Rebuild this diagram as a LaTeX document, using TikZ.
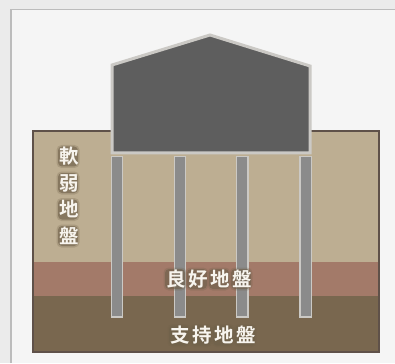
\documentclass[tikz,border=0pt]{standalone}
\usepackage{fontspec}
\usepackage{xcolor}
\newfontfamily\cjkface[LetterSpace=13,BoldFont={Noto Sans CJK JP Bold}]{Noto Sans CJK JP}
\definecolor{PageGrey}{HTML}{ebebeb}
\definecolor{PanelGrey}{HTML}{f5f5f5}
\definecolor{PanelLine}{HTML}{bcbcbc}
\definecolor{SoftSoil}{HTML}{bdae92}
\definecolor{GoodSoil}{HTML}{a37a69}
\definecolor{BaseSoil}{HTML}{79674f}
\definecolor{SoilLine}{HTML}{5f5149}
\definecolor{HouseGrey}{HTML}{5e5e5e}
\definecolor{PileGrey}{HTML}{8b8b8b}
\definecolor{EdgeGrey}{HTML}{cbc9c5}
\definecolor{HaloBrown}{HTML}{6f604a}
\definecolor{LabelWhite}{HTML}{f7f4ee}
\tikzset{
    pile/.style={fill=PileGrey,draw=EdgeGrey,line width=1.5pt},
    plate/.style={fill=HaloBrown,opacity=.6,rounded corners=4pt},
    softplate/.style={fill=HaloBrown,opacity=.25,rounded corners=5pt},
    toplabel/.style={text=LabelWhite,font=\cjkface\bfseries\fontsize{19.5}{26.5}\selectfont,align=center,inner sep=0pt}
}
\newcommand{\haloplate}[2]{%
    \fill[softplate] (#1-11.5,#2-11.5) rectangle (#1+11.5,#2+11.5);
    \fill[plate] (#1-10,#2-10) rectangle (#1+10,#2+10);
}
\begin{document}
\begin{tikzpicture}[x=1pt,y=-1pt]
    \useasboundingbox (0,0) rectangle (395,363);
    % page and panel
    \fill[PageGrey] (0,0) rectangle (395,363);
    \fill[PanelGrey] (11,9.5) rectangle (395,363);
    \draw[PanelLine,line width=1.5pt] (11,363)--(11,9.5)--(395,9.5);
    % soil layers
    \fill[SoftSoil] (33,131) rectangle (379,262);
    \fill[GoodSoil] (33,262) rectangle (379,296);
    \fill[BaseSoil] (33,296) rectangle (379,352);
    \draw[SoilLine,line width=1.3pt] (33,131) rectangle (379,352);
    % piles
    \foreach \pilemid in {117,180,242.3,305.7}{%
        \draw[pile] (\pilemid-5.6,156.5)--(\pilemid+5.6,156.5)--(\pilemid+5.6,317)--(\pilemid-5.6,317)--cycle;
    }
    % building
    \draw[fill=HouseGrey,draw=EdgeGrey,line width=3pt,line join=miter]
        (112,65)--(210,35)--(310,66)--(310,153)--(112,153)--cycle;
    % plates under the labels
    \foreach \platey in {156.5,183,209.5,236}{\haloplate{68}{\platey}}
    \foreach \platex in {175,197,219,241}{\haloplate{\platex}{279}}
    \foreach \platex in {179,201,223,245}{\haloplate{\platex}{335.5}}
    % labels
    \node[toplabel] (soft) at (69,196) {軟\\弱\\地\\盤};
    \node[toplabel] (good) at (209,279) {良好地盤};
    \node[toplabel] (base) at (213,335.5) {支持地盤};
\end{tikzpicture}
\end{document}
